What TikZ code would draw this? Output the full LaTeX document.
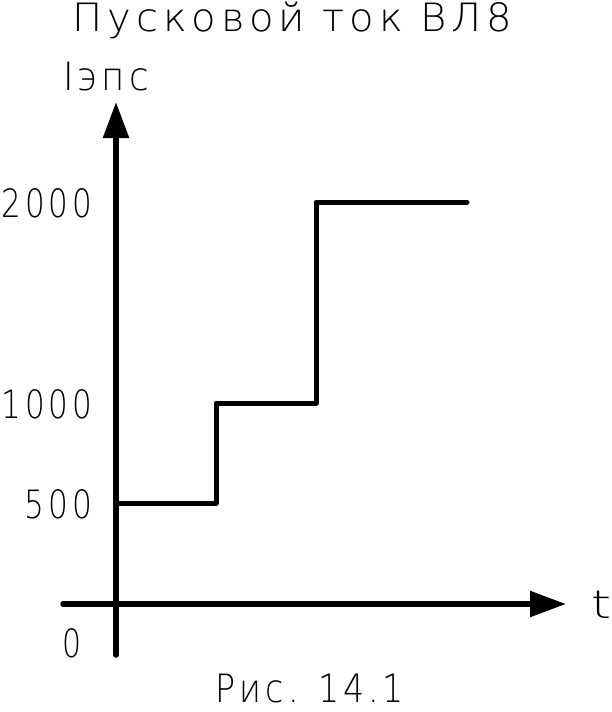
\documentclass[tikz,border=0pt]{standalone}
\usepackage{graphicx}
\usepackage{fontspec}
\setmainfont{DejaVu Sans ExtraLight}[LetterSpace=12]
\usetikzlibrary{arrows.meta}
\newcommand\fitw[2]{\resizebox{#1}{\height}{#2}}
\begin{document}
\begin{tikzpicture}[x=1pt,y=-1pt,
  axis/.style={line width=5.5pt, line cap=round, -{Triangle[length=36pt,width=25pt]}},
  curve/.style={line width=5pt, line cap=round, line join=round},
  lbl/.style={inner sep=0pt, outer sep=0pt, font=\fontsize{39}{40}\selectfont}]
\useasboundingbox[fill=white] (0,0) rectangle (612,712);
% axes
\coordinate (ybot) at (116,655);
\coordinate (ytop) at (116,102);
\coordinate (xleft) at (63,604);
\coordinate (xright) at (566,604);
\draw[axis] (ybot) -- (ytop);
\draw[axis] (xleft) -- (xright);
% step curve
\coordinate (s0) at (116,503);
\coordinate (s1) at (216,503);
\coordinate (s2) at (216,403);
\coordinate (s3) at (316,403);
\coordinate (s4) at (316,202);
\coordinate (s5) at (467,202);
\draw[curve] (s0) -- (s1) -- (s2) -- (s3) -- (s4) -- (s5);
% labels
\node[lbl, anchor=base] (title) at (292.5,31) {\fitw{439pt}{Пусковой ток ВЛ8}};
\node[lbl, anchor=base west] (ylab) at (63,90) {\fitw{86pt}{Iэпс}};
\node[lbl, anchor=base east] (l2000) at (92,217) {\fitw{90pt}{2000}};
\node[lbl, anchor=base east] (l1000) at (92,418) {\fitw{90pt}{1000}};
\node[lbl, anchor=base east] (l500) at (92,518) {\fitw{67pt}{500}};
\node[lbl, anchor=base] (l0) at (71.5,657) {\fitw{19pt}{0}};
\node[lbl, anchor=base] (tlab) at (601.5,618) {\fitw{20pt}{t}};
\node[lbl, anchor=base] (cap) at (310,702) {\fitw{188pt}{Рис. 14.1}};
\end{tikzpicture}
\end{document}
